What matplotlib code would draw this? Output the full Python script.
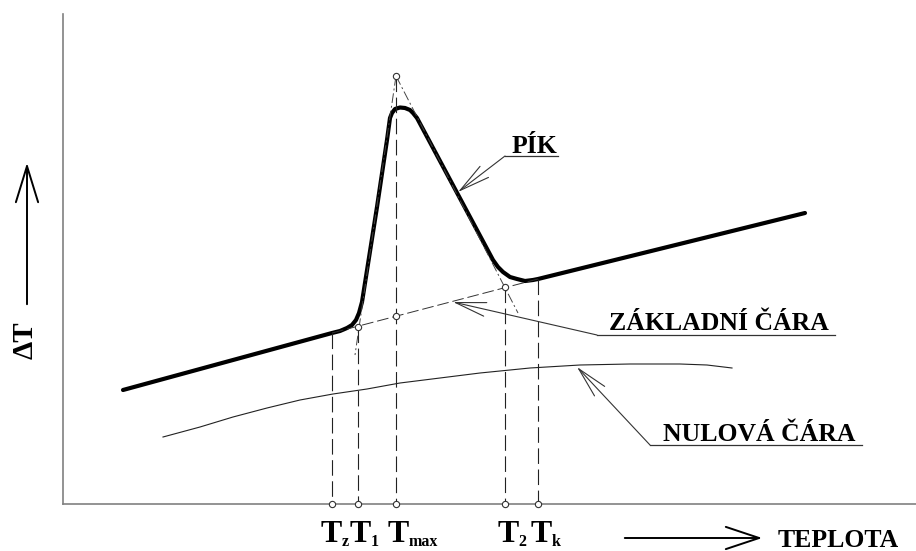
import numpy as np
import matplotlib.pyplot as plt

# schematic DTA record, coordinates (x right, y down)
curve_x = [123, 332, 340, 347, 352, 356, 359, 362, 377, 387, 390, 392, 395, 400, 405,
           410, 413, 417, 493, 498, 503, 510, 517, 525, 533, 538, 805]
curve_y = [390, 333, 331, 328, 325, 320, 313, 302, 207, 140, 118, 113, 109, 107.5, 108,
           110, 113, 118, 260, 267, 272, 277, 279, 281, 280, 279, 213]

zero_x = [163, 200, 233, 267, 300, 333, 367, 400, 440, 480, 530, 580, 630, 680, 707, 732]
zero_y = [437, 427, 417, 408, 400, 394, 389, 383, 378, 373, 368, 365, 364, 364, 365, 368]

# characteristic temperatures and where their verticals start
t_names = ['z', '1', 'max', '2', 'k']
t_x = [332, 358, 396, 505, 538]
t_top = [333, 327, 76, 287, 279]
t_shift = [-1, 2, 2, 3, 3]

base_x = [332, 538]
base_y = [333, 279]
apex = (396, 76)
tan_left = (355, 355)
tan_right = (518, 313)
marks_x = [358, 396, 505, 396]
marks_y = [327, 316, 287, 76]

axis_y = 504
x0_axis = 63

fig = plt.figure(figsize=(9.16, 5.51), dpi=100)
ax = fig.add_axes([0, 0, 1, 1])
ax.set_xlim(0, 916)
ax.set_ylim(551, 0)
ax.axis('off')

font = 'Liberation Serif'

# frame
ax.plot([x0_axis, x0_axis], [14, axis_y], color='#808080', lw=1.2)
ax.plot([x0_axis, 916], [axis_y, axis_y], color='#808080', lw=1.2)

# zero line and DTA curve
ax.plot(zero_x, zero_y, color='#222222', lw=0.8)
ax.plot(curve_x, curve_y, color='black', lw=3.0, solid_joinstyle='round', solid_capstyle='round')

# extrapolated baseline and tangents
ax.plot(base_x, base_y, color='#333333', lw=0.7, ls=(0, (12, 4)))
ax.plot([apex[0], tan_left[0]], [apex[1], tan_left[1]], color='#444444', lw=0.7, ls=(0, (10, 3, 2, 3)))
ax.plot([apex[0], tan_right[0]], [apex[1], tan_right[1]], color='#444444', lw=0.7, ls=(0, (10, 3, 2, 3)))

# verticals down to the temperature axis
for x, top in zip(t_x, t_top):
    ax.plot([x, x], [top, axis_y], color='#222222', lw=0.8, ls=(0, (14, 5)))
ax.plot(t_x, [axis_y] * len(t_x), 'o', ms=4.5, mfc='white', mec='#333333', mew=0.8)
ax.plot(marks_x, marks_y, 'o', ms=4.5, mfc='white', mec='#333333', mew=0.8)

# temperature labels
for x, s, d in zip(t_x, t_names, t_shift):
    ax.text(x + d, 542, 'T', fontsize=23, fontweight='bold', family=font, ha='center', va='baseline')
    ax.text(x + d + 10.5, 546, s, fontsize=11.5, fontweight='bold', family=font, ha='left', va='baseline')

# axis titles with arrows
ax.annotate('', xy=(27, 160), xytext=(27, 307),
            arrowprops=dict(arrowstyle='->,head_length=2.6,head_width=0.8', lw=1.4, color='black', mutation_scale=10))
ax.text(25, 340, 'ΔT', fontsize=21, fontweight='bold', family=font, rotation=90, ha='center', va='center')
ax.annotate('', xy=(765, 538), xytext=(622, 538),
            arrowprops=dict(arrowstyle='->,head_length=2.4,head_width=0.8', lw=1.4, color='black', mutation_scale=10))
ax.text(778, 547, 'TEPLOTA', fontsize=18.5, fontweight='bold', family=font, ha='left', va='baseline')

# leaders with underlined captions
leaders = [
    ('PÍK', (458, 192), (505, 156), 558, 153),
    ('ZÁKLADNÍ ČÁRA', (453, 302), (597, 335), 835, 330),
    ('NULOVÁ ČÁRA', (577, 367), (650, 445), 862, 441),
]
for label, tip, knee, end, base in leaders:
    ax.annotate('', xy=tip, xytext=knee,
                arrowprops=dict(arrowstyle='->,head_length=2.2,head_width=0.5', lw=0.8,
                                color='#333333', mutation_scale=10, shrinkA=0, shrinkB=0))
    ax.plot([knee[0], end], [knee[1], knee[1]], color='#333333', lw=0.9)
    ax.text((knee[0] + end) / 2 + 3, base, label, fontsize=18.5, fontweight='bold', family=font,
            ha='center', va='baseline')

fig.savefig('out.png', dpi=100)
